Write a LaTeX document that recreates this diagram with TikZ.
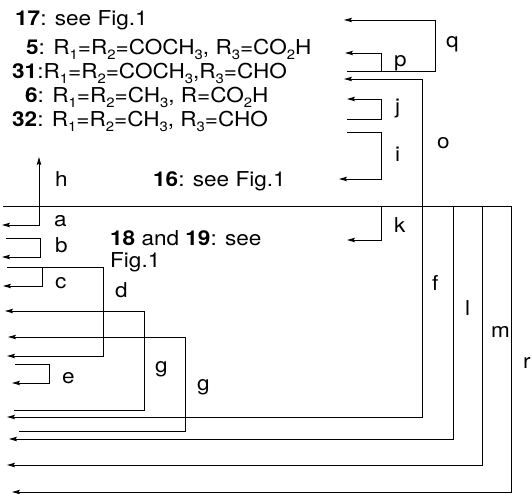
\documentclass[tikz,border=0pt]{standalone}
\usepackage{fontspec}
\setmainfont{TeX Gyre Heros}
\usetikzlibrary{arrows.meta}
\newcommand{\sbx}[1]{\raisebox{-4.2pt}{\fontsize{13.5}{13.5}\selectfont #1}}
\newcommand{\wide}[1]{\scalebox{1.1}[1]{#1}}
\begin{document}
\begin{tikzpicture}[x=1pt,y=-1pt,
  conn/.style={line width=0.9pt},
  arr/.style={line width=0.9pt,-{Stealth[length=8pt,width=4.5pt,inset=1.5pt]}},
  txt/.style={anchor=base west,inner sep=0pt,font=\fontsize{20.5}{23}\selectfont},
  lab/.style={anchor=base west,inner sep=0pt,font=\fontsize{20.5}{23}\selectfont}]
\useasboundingbox (0,0) rectangle (532,494);
% texts
\node[txt] (t17) at (15,26) {\wide{\textbf{17}: see Fig.1}};
\node[txt] (t5) at (26,55) {\wide{\textbf{5}: R\sbx{1}=R\sbx{2}=COCH\sbx{3}, R\sbx{3}=CO\sbx{2}H}};
\node[txt] (t31) at (12,79) {\wide{\textbf{31}:R\sbx{1}=R\sbx{2}=COCH\sbx{3},R\sbx{3}=CHO}};
\node[txt] (t6) at (25,103) {\wide{\textbf{6}: R\sbx{1}=R\sbx{2}=CH\sbx{3}, R=CO\sbx{2}H}};
\node[txt] (t32) at (12,127) {\wide{\textbf{32}: R\sbx{1}=R\sbx{2}=CH\sbx{3}, R\sbx{3}=CHO}};
\node[txt] (t16) at (153,187) {\wide{\textbf{16}: see Fig.1}};
\node[txt] (t18) at (110,245) {\wide{\textbf{18} and \textbf{19}: see}};
\node[txt] (t18b) at (110,267) {\wide{Fig.1}};
% labels
\node[lab] (lq) at (446,48) {\wide{q}};
\node[lab] (lp) at (394,67) {\wide{p}};
\node[lab] (lo) at (437,149) {\wide{o}};
\node[lab] (lj) at (395,114) {\wide{j}};
\node[lab] (li) at (395,162) {\wide{i}};
\node[lab] (lk) at (394,233) {\wide{k}};
\node[lab] (lf) at (432,290) {\wide{f}};
\node[lab] (ll) at (465,315) {\wide{l}};
\node[lab] (lm) at (491,337) {\wide{m}};
\node[lab] (lr) at (523,368) {\wide{r}};
\node[lab] (lh) at (55,187) {\wide{h}};
\node[lab] (la) at (54,226) {\wide{a}};
\node[lab] (lb) at (55,252) {\wide{b}};
\node[lab] (lc) at (55,288) {\wide{c}};
\node[lab] (ld) at (115,297) {\wide{d}};
\node[lab] (le) at (62,383) {\wide{e}};
\node[lab] (lg1) at (155,372) {\wide{g}};
\node[lab] (lg2) at (197,390) {\wide{g}};
% coordinates
\coordinate (rowL) at (3,206);
\coordinate (rowR) at (512,206);
\coordinate (qs) at (347,71);
\coordinate (qe) at (344,20);
\coordinate (pe) at (345,53);
\coordinate (oe) at (344,79);
\coordinate (js) at (347,119);
\coordinate (je) at (347,99);
\coordinate (is) at (347,132);
\coordinate (ie) at (339,179);
\coordinate (ke) at (347,240);
\coordinate (fe) at (7,417);
\coordinate (le) at (9,439);
\coordinate (me) at (7,465);
\coordinate (re) at (12,492);
\coordinate (he) at (39,157);
\coordinate (ae) at (2,225);
\coordinate (bs) at (6,238);
\coordinate (be) at (2,257);
\coordinate (cs) at (7,267);
\coordinate (ce) at (3,286);
\coordinate (de) at (7,356);
\coordinate (g1s) at (14,410);
\coordinate (g1e) at (5,311);
\coordinate (g2s) at (19,431);
\coordinate (g2e) at (8,337);
\coordinate (es) at (15,364);
\coordinate (ee) at (12,383);
% row line
\draw[conn] (rowL) -- (rowR);
% top right
\draw[arr] (qs) -- (435,71) -- (435,20) -- (qe);
\draw[arr] (381,71) -- (381,53) -- (pe);
\draw[arr] (422,206) -- (422,79) -- (oe);
\draw[arr] (js) -- (381,119) -- (381,99) -- (je);
\draw[arr] (is) -- (381,132) -- (381,179) -- (ie);
\draw[arr] (381,206) -- (381,240) -- (ke);
% right verticals
\draw[arr] (422,206) -- (422,417) -- (fe);
\draw[arr] (453,206) -- (453,439) -- (le);
\draw[arr] (482,206) -- (482,465) -- (me);
\draw[arr] (511,206) -- (511,492) -- (re);
% left
\draw[arr] (39,206) -- (he);
\draw[arr] (39,206) -- (39,225) -- (ae);
\draw[arr] (bs) -- (40,238) -- (40,257) -- (be);
\draw[conn] (cs) -- (103,267);
\draw[arr] (42,267) -- (42,286) -- (ce);
\draw[arr] (103,267) -- (103,356) -- (de);
\draw[arr] (g1s) -- (144,410) -- (144,311) -- (g1e);
\draw[arr] (g2s) -- (185,431) -- (185,337) -- (g2e);
\draw[arr] (es) -- (49,364) -- (49,383) -- (ee);
\end{tikzpicture}
\end{document}
